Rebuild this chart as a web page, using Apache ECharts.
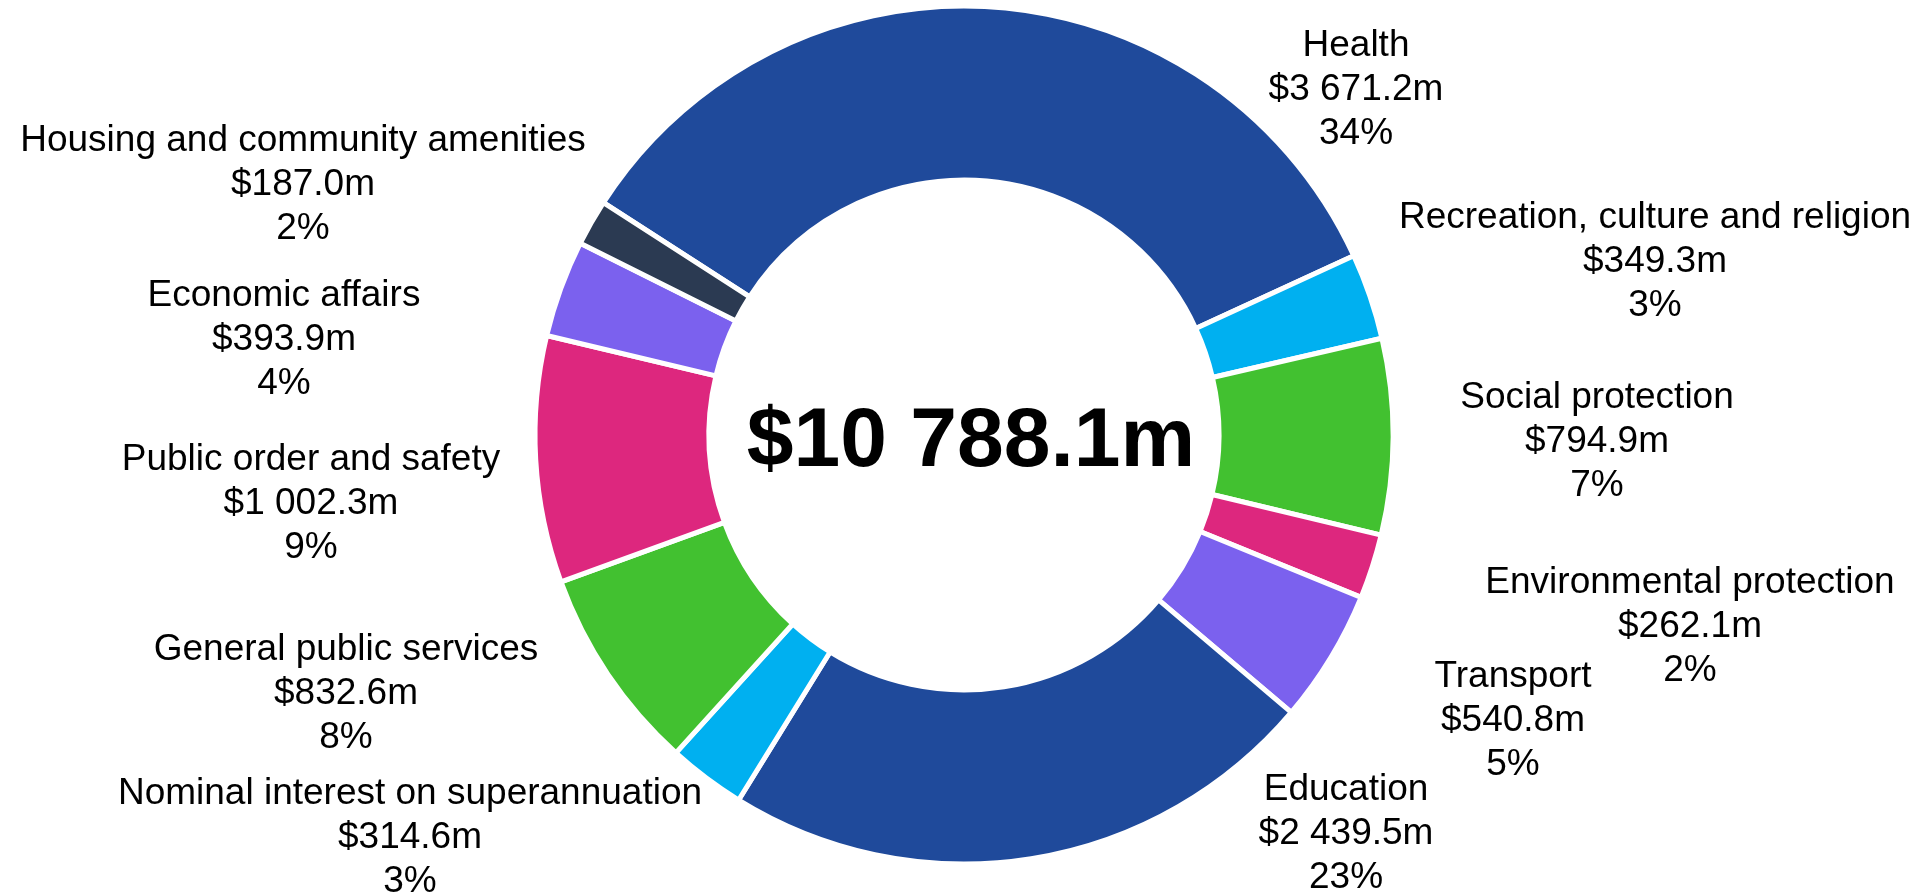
<!DOCTYPE html>
<html>
<head>
<meta charset="utf-8">
<script src="https://cdn.jsdelivr.net/npm/echarts@6/dist/echarts.min.js"></script>
<style>
  html, body { margin: 0; padding: 0; background: #ffffff; }
  #chart { width: 1926px; height: 894px; }
</style>
</head>
<body>
<div id="chart"></div>
<script>
// ---- Data ----
const categories = [
  'Health',
  'Recreation, culture and religion',
  'Social protection',
  'Environmental protection',
  'Transport',
  'Education',
  'Nominal interest on superannuation',
  'General public services',
  'Public order and safety',
  'Economic affairs',
  'Housing and community amenities'
];
const values = [3671.2, 349.3, 794.9, 262.1, 540.8, 2439.5, 314.6, 832.6, 1002.3, 393.9, 187.0];
const totalValue = 10788.1;

// ---- Styles ----
const colors = ['#1f4a9b', '#00b0f0', '#42c130', '#dd277e', '#7b61ee', '#1f4a9b',
                '#00b0f0', '#42c130', '#dd277e', '#7b61ee', '#2b3a52'];
const labelAnchors = {
  'Health': [1356, 90],
  'Recreation, culture and religion': [1655, 262],
  'Social protection': [1597, 442],
  'Environmental protection': [1690, 627],
  'Transport': [1513, 721],
  'Education': [1346, 834],
  'Nominal interest on superannuation': [410, 838],
  'General public services': [346, 694],
  'Public order and safety': [311, 504],
  'Economic affairs': [284, 340],
  'Housing and community amenities': [303, 185]
};

function fmtMoney(v) {
  const parts = v.toFixed(1).split('.');
  const intPart = parts[0].replace(/\B(?=(\d{3})+(?!\d))/g, ' ');
  return '$' + intPart + '.' + parts[1] + 'm';
}
const sum = values.reduce((a, b) => a + b, 0);

const chart = echarts.init(document.getElementById('chart'), null, { renderer: 'canvas' });
const FONT = "'Liberation Sans', Arial, sans-serif";

chart.setOption({
  animation: false,
  backgroundColor: '#ffffff',
  graphic: [{
    type: 'text',
    x: 971,
    y: 443,
    style: {
      text: fmtMoney(totalValue),
      font: "bold 84px " + FONT,
      fill: '#000000',
      align: 'center',
      verticalAlign: 'middle'
    }
  }],
  series: [{
    type: 'pie',
    center: [964, 435],
    radius: [255, 429],
    startAngle: 147.2,
    clockwise: true,
    avoidLabelOverlap: false,
    itemStyle: { borderColor: '#ffffff', borderWidth: 5 },
    label: {
      show: true,
      position: 'outside',
      fontFamily: FONT,
      fontSize: 37,
      lineHeight: 44,
      color: '#000000',
      align: 'center',
      formatter: function (p) {
        return p.name + '\n' + fmtMoney(p.value) + '\n' + Math.round(p.value / sum * 100) + '%';
      }
    },
    labelLine: { show: false },
    labelLayout: function (params) {
      const a = labelAnchors[categories[params.dataIndex]];
      return { x: a[0], y: a[1], align: 'center', verticalAlign: 'middle' };
    },
    emphasis: { disabled: true },
    data: categories.map((c, i) => ({ name: c, value: values[i], itemStyle: { color: colors[i] } }))
  }]
});
</script>
</body>
</html>
